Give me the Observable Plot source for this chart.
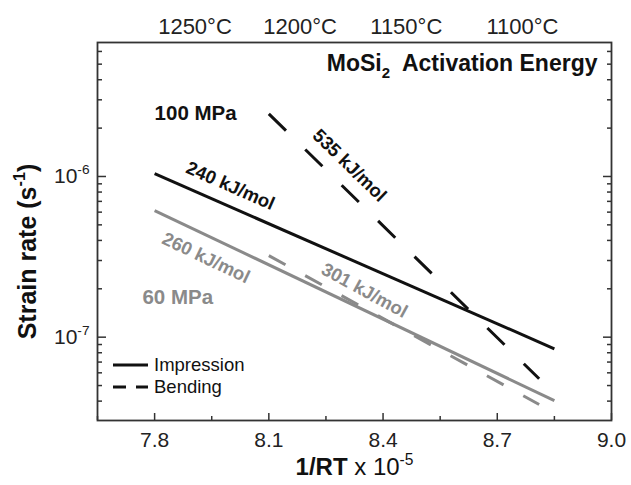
<!DOCTYPE html>
<html>
<head>
<meta charset="utf-8">
<script src="https://cdn.jsdelivr.net/npm/d3@7"></script>
<script src="https://cdn.jsdelivr.net/npm/@observablehq/plot@0.6"></script>
<style>
  html, body { margin: 0; padding: 0; background: #fff; }
  #wrap { position: relative; width: 631px; height: 485px; font-family: "Liberation Sans", Arial, sans-serif; }
  #legend { position: absolute; left: 108px; top: 352px; }
</style>
</head>
<body>
<div id="wrap"></div>
<script>
// ---------- data ----------
const xTicks = [7.8, 8.1, 8.4, 8.7, 9.0];
const xMinorTicks = [7.65, 7.95, 8.25, 8.55, 8.85];
const yTicks = [1e-7, 1e-6];
const yTickLabels = ["10^{-7}", "10^{-6}"];
const yMinorTicks = [4e-8, 5e-8, 6e-8, 7e-8, 8e-8, 9e-8,
  2e-7, 3e-7, 4e-7, 5e-7, 6e-7, 7e-7, 8e-7, 9e-7,
  2e-6, 3e-6, 4e-6, 5e-6, 6e-6];
const tempTicks = [7.906, 8.182, 8.461, 8.766];
const tempLabels = ["1250°C", "1200°C", "1150°C", "1100°C"];

const seriesMethod = ["Impression", "Impression", "Bending", "Bending"];
const seriesStress = [100, 60, 100, 60];
const seriesStartX = [7.80, 7.80, 8.10, 8.10];
const seriesEndX = [8.85, 8.85, 8.81, 8.81];
const seriesStartY = [1.04e-6, 6.14e-7, 2.455e-6, 3.22e-7];
const seriesEndY = [8.47e-8, 4.03e-8, 5.51e-8, 3.81e-8];

const annText = ["100 MPa", "60 MPa", "240 kJ/mol", "260 kJ/mol", "535 kJ/mol", "301 kJ/mol"];
const annX = [7.80, 7.768, 7.999, 7.935, 8.312, 8.351];
const annY = [2.47e-6, 1.77e-7, 8.73e-7, 3.11e-7, 1.17e-6, 1.95e-7];

const titleText = "MoSi_{2}  Activation Energy";
const xTitle = "!{1/RT} x 10^{-5}";
const yTitle = "Strain rate (s^{-1})";
const legendNames = ["Impression", "Bending"];

// ---------- styles ----------
const BLACK = "#111";
const GRAY = "#8a8a8a";
const lineStyle = (i) => ({
  stroke: seriesStress[i] === 100 ? BLACK : GRAY,
  strokeDasharray: seriesMethod[i] === "Bending" ? (seriesStress[i] === 100 ? "24,27" : "19,22.5") : null
});
const annStyle = [
  {fill: BLACK, rotate: 0, textAnchor: "start", fontSize: 20.5},
  {fill: GRAY, rotate: 0, textAnchor: "start", fontSize: 20.5},
  {fill: BLACK, rotate: 23.7, textAnchor: "middle", fontSize: 18.5},
  {fill: GRAY, rotate: 25.5, textAnchor: "middle", fontSize: 18.5},
  {fill: BLACK, rotate: 44.3, textAnchor: "middle", fontSize: 18.5},
  {fill: GRAY, rotate: 28.5, textAnchor: "middle", fontSize: 18.5}
];

const idx = d3.range(seriesMethod.length);
const lineMarks = idx.map(i => Plot.link([i], {
  x1: d => seriesStartX[d], y1: d => seriesStartY[d],
  x2: d => seriesEndX[d], y2: d => seriesEndY[d],
  strokeWidth: 3, strokeLinecap: "butt", ...lineStyle(i)
}));
const annMarks = annText.map((t, i) => Plot.text([i], {
  x: d => annX[d], y: d => annY[d], text: d => annText[d],
  fontWeight: "bold", lineAnchor: "middle", ...annStyle[i]
}));

const tempLabelFor = (d) => tempLabels[d3.minIndex(tempTicks, v => Math.abs(v - d))];

const axisCommon = {label: null, stroke: "#333", strokeWidth: 1.5};
const chart = Plot.plot({
  width: 631, height: 485,
  marginLeft: 97, marginRight: 20, marginTop: 42, marginBottom: 65,
  style: {fontFamily: "'Liberation Sans', Arial, sans-serif", background: "white", color: "#111"},
  x: {domain: [7.65, 9.0]},
  y: {type: "log", domain: [3.03e-8, 6.82e-6]},
  marks: [
    // inward ticks
    Plot.axisX(xTicks, {...axisCommon, anchor: "bottom", tickSize: 7, dy: -7, tickFormat: () => "", fill: "none"}),
    Plot.axisX(xMinorTicks, {...axisCommon, anchor: "bottom", tickSize: 4, dy: -4, tickFormat: () => "", fill: "none"}),
    Plot.axisY(yTicks, {...axisCommon, anchor: "left", tickSize: 9, dx: 9, tickFormat: () => "", fill: "none"}),
    Plot.axisY(yMinorTicks, {...axisCommon, anchor: "left", tickSize: 5, dx: 5, tickFormat: () => "", fill: "none"}),
    Plot.axisY(yTicks, {...axisCommon, anchor: "right", tickSize: 9, dx: -9, tickFormat: () => "", fill: "none"}),
    Plot.axisY(yMinorTicks, {...axisCommon, anchor: "right", tickSize: 5, dx: -5, tickFormat: () => "", fill: "none"}),
    // tick labels
    Plot.axisX(xTicks, {label: null, anchor: "bottom", tickSize: 0, tickPadding: 12, fontSize: 21, fill: "#222", tickFormat: d3.format(".1f")}),
    Plot.text(yTicks, {y: d => d, text: (d, i) => yTickLabels[i], frameAnchor: "left", textAnchor: "end",
      lineAnchor: "middle", dx: -8, fontSize: 21, fill: "#222"}),
    Plot.axisX(tempTicks, {label: null, anchor: "top", tickSize: 0, tickPadding: 9, fontSize: 22, fill: "#222", tickFormat: tempLabelFor}),
    Plot.frame({stroke: "#333", strokeWidth: 1.8}),
    ...lineMarks,
    ...annMarks,
    Plot.text([titleText], {text: d => d, frameAnchor: "top-right", textAnchor: "end", lineAnchor: "top",
      dx: -14, dy: 12, fontSize: 23, fontWeight: "bold", fill: BLACK}),
    Plot.text([xTitle], {text: d => d, frameAnchor: "bottom", textAnchor: "middle", lineAnchor: "middle", dy: 46.5, fontSize: 24, fill: BLACK}),
    Plot.text([yTitle], {text: d => d, frameAnchor: "left", textAnchor: "middle", lineAnchor: "middle", rotate: -90, dx: -70, dy: 20,
      fontSize: 25, fontWeight: "bold", fill: BLACK})
  ]
});

const wrap = document.getElementById("wrap");
wrap.appendChild(chart);

// rich text: ^{sup}, _{sub}, !{bold}
const NS = "http://www.w3.org/2000/svg";
function fontSizeOf(n) {
  for (let e = n; e && e.getAttribute; e = e.parentNode) {
    const a = e.getAttribute("font-size");
    if (a && parseFloat(a)) return parseFloat(a);
  }
  return parseFloat(getComputedStyle(n).fontSize) || 16;
}
function richify(root) {
  root.querySelectorAll("text").forEach(t => {
    const targets = t.querySelector("tspan") ? [...t.querySelectorAll("tspan")] : [t];
    for (const n of targets) {
      const s = n.textContent;
      if (!/[\^_!]\{/.test(s)) continue;
      const fs = fontSizeOf(n);
      n.textContent = "";
      let cur = 0;
      const re = /([\^_!])\{([^}]*)\}|([^\^_!]+)/g;
      let m;
      while ((m = re.exec(s))) {
        const ts = document.createElementNS(NS, "tspan");
        let target = 0;
        ts.setAttribute("font-size", fs);
        if (m[3] !== undefined) {
          ts.textContent = m[3];
        } else if (m[1] === "!") {
          ts.textContent = m[2];
          ts.setAttribute("font-weight", "bold");
        } else {
          ts.textContent = m[2];
          ts.setAttribute("font-size", (0.65 * fs).toFixed(1));
          target = m[1] === "^" ? -0.42 * fs : 0.3 * fs;
        }
        if (target !== cur) ts.setAttribute("dy", (target - cur).toFixed(1));
        cur = target;
        n.appendChild(ts);
      }
    }
  });
}
richify(chart);

// legend
const lg = d3.select(wrap).append("svg").attr("id", "legend").attr("width", 150).attr("height", 46);
legendNames.forEach((name, i) => {
  const y = 13 + i * 22;
  lg.append("line").attr("x1", 5).attr("x2", 40).attr("y1", y).attr("y2", y)
    .attr("stroke", BLACK).attr("stroke-width", 3)
    .attr("stroke-dasharray", name === "Bending" ? "13,10" : null);
  lg.append("text").attr("x", 46).attr("y", y).attr("dy", "0.35em")
    .attr("font-size", 18.5).attr("fill", BLACK)
    .attr("font-family", "'Liberation Sans', Arial, sans-serif").text(name);
});
</script>
</body>
</html>
